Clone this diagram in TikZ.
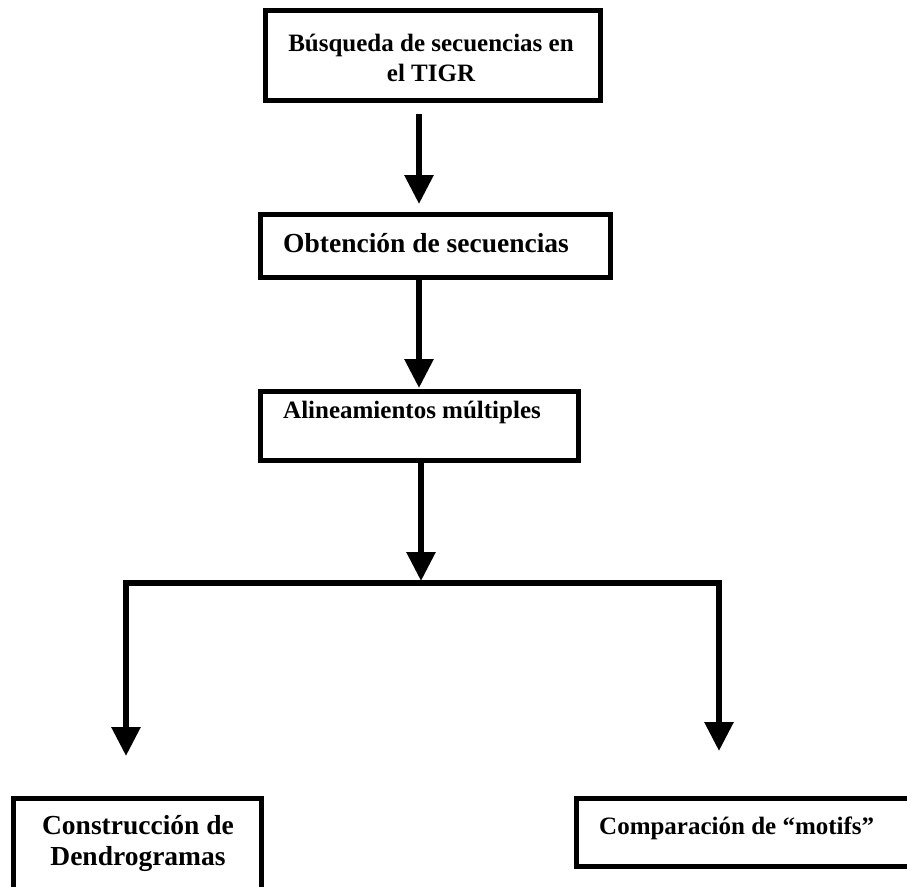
\documentclass[tikz,border=0pt]{standalone}
\usepackage{fontspec}
\setmainfont{Liberation Serif}
\usetikzlibrary{arrows.meta}
\begin{document}
\begin{tikzpicture}[x=1pt,y=-1pt,
  boxst/.style={draw=black,line width=5pt,fill=white,inner sep=0pt},
  txt/.style={font=\fontsize{25}{30}\selectfont\bfseries,inner sep=0pt},
  txtbig/.style={font=\fontsize{27.5}{31}\selectfont\bfseries,inner sep=0pt},
  arr/.style={line width=6pt,-{Triangle[width=28pt,length=29pt]}},
  arr2/.style={line width=6pt,{Triangle[width=28pt,length=29pt]}-{Triangle[width=28pt,length=29pt]}}]
\useasboundingbox (0,0) rectangle (907,886);
% boxes
\node[boxst,minimum width=335pt,minimum height=90pt] (b1) at (433,55.5) {};
\node[boxst,minimum width=350pt,minimum height=63pt] (b2) at (435.5,246) {};
\node[boxst,minimum width=318pt,minimum height=69pt] (b3) at (419.5,426) {};
\node[boxst,minimum width=248pt,minimum height=95pt] (b4) at (137.5,846) {};
\node[boxst,minimum width=338pt,minimum height=68pt] (b5) at (745.5,832.5) {};
% texts
\node[txt,align=center] (t1) at (431,58) {Búsqueda de secuencias en\\el TIGR};
\node[txtbig,anchor=base west] (t2) at (283,252) {Obtención de secuencias};
\node[txt,anchor=base west] (t3) at (283,418) {Alineamientos múltiples};
\node[txtbig,align=center] (t4) at (138,843) {Construcción de\\Dendrogramas};
\node[txt,anchor=base west] (t5) at (599,834) {Comparación de ``motifs''};
% connectors
\coordinate (a1s) at (419,114);
\coordinate (a1e) at (419,204);
\coordinate (a2e) at (419,388);
\coordinate (a3e) at (421,581);
\coordinate (jl) at (126,583);
\coordinate (jr) at (719,583);
\coordinate (tl) at (126,756);
\coordinate (tr) at (719,751);
\draw[arr] (a1s) -- (a1e);
\draw[arr] (b2.south -| a2e) -- (a2e);
\draw[arr] (b3.south -| a3e) -- (a3e);
\draw[arr2,line join=miter] (tl) -- (jl) -- (jr) -- (tr);
\end{tikzpicture}
\end{document}
